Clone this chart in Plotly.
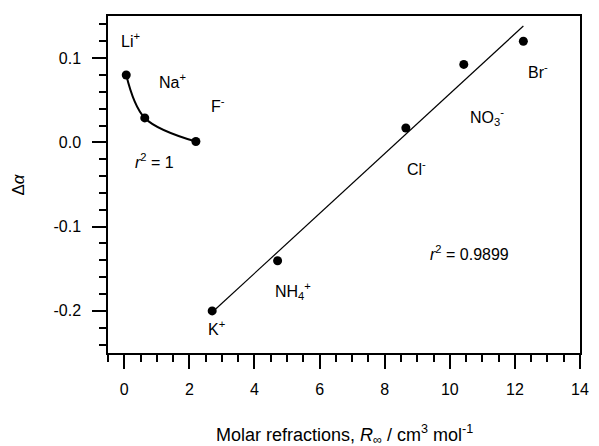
import numpy as np
import plotly.graph_objects as go

# Cations/anion group on the left curve
curve_labels = ["Li<sup>+</sup>", "Na<sup>+</sup>", "F<sup>-</sup>"]
curve_x = [0.06, 0.63, 2.20]
curve_y = [0.080, 0.029, 0.001]

# Group on the linear fit
line_labels = ["K<sup>+</sup>", "NH<sub>4</sub><sup>+</sup>", "Cl<sup>-</sup>", "NO<sub>3</sub><sup>-</sup>", "Br<sup>-</sup>"]
line_x = [2.70, 4.71, 8.65, 10.43, 12.26]
line_y = [-0.200, -0.1405, 0.017, 0.0925, 0.120]

# Label positions (data coordinates)
label_text = ["Li<sup>+</sup>", "Na<sup>+</sup>", "F<sup>-</sup>", "K<sup>+</sup>",
              "NH<sub>4</sub><sup>+</sup>", "Cl<sup>-</sup>", "NO<sub>3</sub><sup>-</sup>", "Br<sup>-</sup>",
              "<i>r</i><sup>2</sup> = 1", "<i>r</i><sup>2</sup> = 0.9899"]
label_x = [0.20, 1.48, 2.87, 2.84, 5.19, 8.98, 11.13, 12.70, 0.92, 10.61]
label_y = [0.121, 0.073, 0.044, -0.220, -0.176, -0.030, 0.030, 0.085, -0.022, -0.131]

x_ticks = [0, 2, 4, 6, 8, 10, 12, 14]
y_ticks = [-0.2, -0.1, 0.0, 0.1]
y_ticktext = ["-0.2", "-0.1", "0.0", "0.1"]

FONT = "Arial, Liberation Sans, Helvetica, sans-serif"

# linear regression over the second group
slope, intercept = np.polyfit(line_x, line_y, 1)
fit_x = [min(line_x), max(line_x)]
fit_y = [slope * v + intercept for v in fit_x]

fig = go.Figure()
fig.add_trace(go.Scatter(x=curve_x, y=curve_y, mode="lines", line=dict(color="black", width=2, shape="spline"),
                         hoverinfo="skip", showlegend=False))
fig.add_trace(go.Scatter(x=fit_x, y=fit_y, mode="lines", line=dict(color="black", width=1.2),
                         hoverinfo="skip", showlegend=False))
fig.add_trace(go.Scatter(x=curve_x + line_x, y=curve_y + line_y, mode="markers",
                         marker=dict(color="black", size=9), showlegend=False))

for t, xv, yv in zip(label_text, label_x, label_y):
    fig.add_annotation(x=xv, y=yv, text=t, showarrow=False, xanchor="center", yanchor="middle",
                       font=dict(size=16, color="black", family=FONT))

axis_common = dict(showgrid=False, zeroline=False, showline=True, linecolor="black", linewidth=1.5,
                   mirror=True, ticks="outside", ticklen=14, tickwidth=1.5, tickcolor="black",
                   tickfont=dict(size=16, color="black", family=FONT))

fig.update_xaxes(range=[-0.5, 14], tickmode="array", tickvals=x_ticks, ticklabelstandoff=7,
                 minor=dict(tick0=0, dtick=0.5, ticks="outside", ticklen=7, tickwidth=1.5, tickcolor="black"),
                 **axis_common)
fig.update_yaxes(range=[-0.25, 0.15], tickmode="array", tickvals=y_ticks, ticktext=y_ticktext,
                 ticklabelstandoff=8,
                 minor=dict(tick0=0, dtick=0.02, ticks="outside", ticklen=7, tickwidth=1.5, tickcolor="black"),
                 **axis_common)

fig.add_annotation(xref="paper", yref="paper", x=0.5, y=0, yshift=-81, xanchor="center", yanchor="middle",
                   text="Molar refractions, <i>R</i><sub>∞</sub> / cm<sup>3</sup> mol<sup>-1</sup>",
                   showarrow=False, font=dict(size=18, color="black", family=FONT))
fig.add_annotation(xref="paper", yref="paper", x=0, xshift=-90, y=0.5, xanchor="center", yanchor="middle",
                   text="Δ<i>α</i>", textangle=-90, showarrow=False,
                   font=dict(size=17, color="black", family=FONT))

fig.update_layout(width=599, height=446, margin=dict(l=108, r=10, t=16, b=93),
                  paper_bgcolor="white", plot_bgcolor="white", showlegend=False,
                  font=dict(family=FONT, color="black"))

fig.write_html("out.html")
